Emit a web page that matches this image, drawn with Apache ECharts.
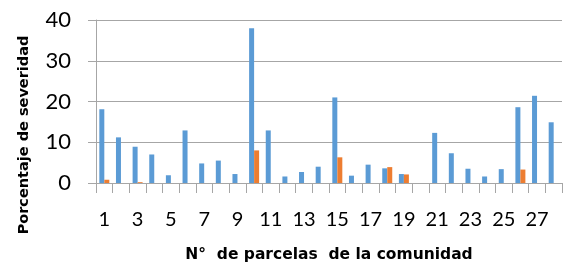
<!DOCTYPE html>
<html>
<head>
<meta charset="utf-8">
<script src="https://cdn.jsdelivr.net/npm/echarts@6/dist/echarts.min.js"></script>
<style>
  html, body { margin: 0; padding: 0; background: #fff; }
  #chart { width: 564px; height: 265px; }
</style>
</head>
<body>
<div id="chart"></div>
<script>
// parcelas 1..28
const parcelas = ['1','2','3','4','5','6','7','8','9','10','11','12','13','14',
  '15','16','17','18','19','20','21','22','23','24','25','26','27','28'];
// barras azules
const serieAzul = [18.1, 11.2, 8.9, 7.0, 1.9, 12.9, 4.8, 5.5, 2.2, 38.0, 12.9, 1.6, 2.7, 4.0,
  21.0, 1.8, 4.5, 3.6, 2.2, 0, 12.3, 7.3, 3.5, 1.6, 3.4, 18.6, 21.4, 14.9];
// barras naranjas
const serieNaranja = [0.8, 0, 0.2, 0, 0, 0, 0, 0, 0, 8.0, 0, 0, 0, 0,
  6.3, 0, 0, 3.9, 2.1, 0, 0, 0, 0, 0, 0, 3.3, 0, 0];
const ejeY = { min: 0, max: 40, paso: 10 };

const gris = '#a6a6a6';
const chart = echarts.init(document.getElementById('chart'));

chart.setOption({
  animation: false,
  backgroundColor: '#fff',
  textStyle: { fontFamily: 'Lato' },
  grid: { left: 96, right: 2, top: 20, bottom: 82, outerBoundsMode: 'none', containLabel: false },
  xAxis: {
    type: 'category',
    data: parcelas,
    name: 'N°  de parcelas  de la comunidad',
    nameLocation: 'middle',
    nameGap: 64,
    nameTextStyle: { fontFamily: 'DejaVu Sans', fontWeight: 'bold', fontSize: 15.5, color: '#000' },
    axisLine: { lineStyle: { color: gris, width: 1 } },
    axisTick: { show: true, interval: 0, length: 10, lineStyle: { color: gris } },
    axisLabel: { interval: 1, margin: 27, fontSize: 20, color: '#000', fontFamily: 'Lato' }
  },
  yAxis: {
    type: 'value',
    min: ejeY.min,
    max: ejeY.max,
    interval: ejeY.paso,
    axisLine: { show: true, lineStyle: { color: gris, width: 1 } },
    axisTick: { show: true, length: 8, lineStyle: { color: gris } },
    axisLabel: { margin: 25, fontSize: 22, color: '#000', fontFamily: 'Lato' },
    splitLine: { lineStyle: { color: gris, width: 1 } }
  },
  series: [
    { type: 'bar', data: serieAzul, barWidth: 5, barGap: '0%', itemStyle: { color: '#5b9bd5' } },
    { type: 'bar', data: serieNaranja, barWidth: 5, itemStyle: { color: '#ed7d31' } }
  ],
  graphic: [{
    type: 'text',
    x: 17,
    y: 135,
    rotation: Math.PI / 2,
    style: {
      text: 'Porcentaje de severidad',
      font: 'bold 14.5px "DejaVu Sans"',
      fill: '#000',
      align: 'center',
      verticalAlign: 'top'
    }
  }]
});
</script>
</body>
</html>
